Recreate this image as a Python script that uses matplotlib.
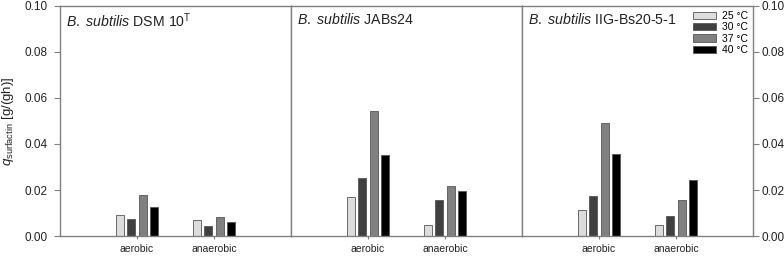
import matplotlib
matplotlib.use("Agg")
import matplotlib.pyplot as plt
import numpy as np

plt.rcParams['font.family'] = ['Liberation Sans', 'DejaVu Sans']
plt.rcParams['mathtext.fontset'] = 'custom'
plt.rcParams['mathtext.rm'] = 'Liberation Sans'
plt.rcParams['mathtext.it'] = 'Liberation Sans:italic'

# daten
bedingungen = ['aerobic', 'anaerobic']
temperaturen = ['25 °C', '30 °C', '37 °C', '40 °C']
staemme = [r'$\it{B.\ subtilis}$ DSM 10$^{\rm T}$',
           r'$\it{B.\ subtilis}$ JABs24',
           r'$\it{B.\ subtilis}$ IIG-Bs20-5-1']

# q_surfactin je Temperatur: [aerobic, anaerobic]
dsm10 = [[0.0091, 0.0068], [0.0074, 0.0043], [0.0179, 0.0082], [0.0128, 0.0059]]
jabs24 = [[0.0169, 0.0048], [0.0254, 0.0157], [0.0543, 0.0218], [0.0354, 0.0196]]
iig = [[0.0114, 0.0048], [0.0173, 0.0089], [0.0492, 0.0157], [0.0356, 0.0242]]

farben = ['#dcdcdc', '#404040', '#808080', '#000000']
rahmen = '#808080'

fig, axes = plt.subplots(1, 3, figsize=(7.84, 2.56), dpi=100, sharey=True)
fig.subplots_adjust(left=0.0765, right=0.9605, bottom=0.078, top=0.977, wspace=0)

x = np.arange(1, len(bedingungen) + 1)
breite = 0.104
abstand = 0.148

for k, (ax, werte, name) in enumerate(zip(axes, [dsm10, jabs24, iig], staemme)):
    for i in range(len(temperaturen)):
        off = (i - 1.5) * abstand
        ax.bar(x + off, werte[i], width=breite, color=farben[i],
               edgecolor='#555555', linewidth=0.6, label=temperaturen[i])
    ax.set_xlim(0, 3)
    ax.set_ylim(0, 0.10)
    ax.set_xticks(x)
    ax.set_xticklabels(bedingungen, fontsize=7.5, color='#222222')
    ax.tick_params(axis='x', length=2.5, color=rahmen, pad=3)
    for s in ax.spines.values():
        s.set_color(rahmen)
        s.set_linewidth(1.0)
    ax.text(0.025, 0.975, name, transform=ax.transAxes, ha='left', va='top',
            fontsize=10.2, color='#222222')
    if k == 0:
        ax.set_yticks([0, 0.02, 0.04, 0.06, 0.08, 0.10])
        ax.yaxis.set_major_formatter(matplotlib.ticker.FormatStrFormatter('%.2f'))
        ax.tick_params(axis='y', length=4, color=rahmen, labelsize=8.5, labelcolor='#222222', pad=5)
        ax.set_ylabel(r'$q_{\rm surfactin}$ [g/(gh)]', fontsize=9.5, color='#222222', labelpad=6)
    elif k == 1:
        ax.tick_params(axis='y', left=False, labelleft=False)
    else:
        ax.tick_params(axis='y', left=False, labelleft=False, right=True, labelright=True,
                       length=4, color=rahmen, labelsize=8.5, labelcolor='#222222', pad=2)
        ax.legend(loc='upper right', bbox_to_anchor=(1.0, 1.0), frameon=False,
                  fontsize=7.5, handlelength=2.3, handleheight=0.7, handletextpad=0.5,
                  labelspacing=0.12, borderaxespad=0.1)

plt.savefig('out.png', dpi=100)
